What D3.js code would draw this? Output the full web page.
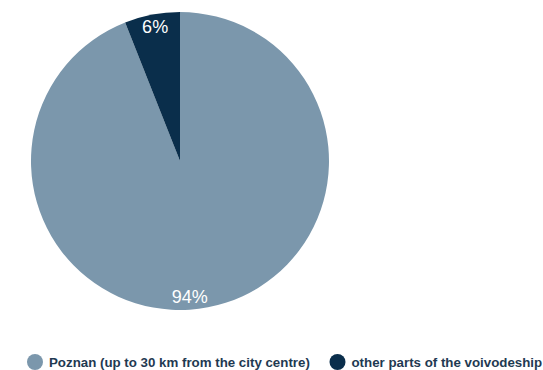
<!DOCTYPE html>
<html>
<head>
<meta charset="utf-8">
<script src="https://cdn.jsdelivr.net/npm/d3@7"></script>
<style>
  html, body { margin: 0; padding: 0; background: #ffffff; }
  svg { display: block; font-family: "Liberation Sans", Arial, sans-serif; }
</style>
</head>
<body>
<svg id="chart" width="543" height="370"></svg>
<script>
// Share of respondents by place of residence
const categories = ["Poznan (up to 30 km from the city centre)", "other parts of the voivodeship"];
const values = [94, 6];
const colors = ["#7b97ac", "#0a2e4b"];

const svg = d3.select("#chart");
const cx = 180, cy = 161, radius = 149;

const pie = d3.pie().sort(null).value(d => d.value);
const arcs = pie(categories.map((c, i) => ({ name: c, value: values[i], color: colors[i] })));

const arc = d3.arc().innerRadius(0).outerRadius(radius);

const g = svg.append("g").attr("transform", `translate(${cx},${cy})`);

g.selectAll("path.slice")
  .data(arcs)
  .join("path")
  .attr("class", "slice")
  .attr("d", arc)
  .attr("fill", d => d.data.color);

// Value labels sit just inside the rim; the large slice's label is pulled toward the bottom
const labelRadius = 136.5;
const labelShift = [6.7 * Math.PI / 180, 0.3 * Math.PI / 180];
g.selectAll("text.value")
  .data(arcs)
  .join("text")
  .attr("class", "value")
  .attr("text-anchor", "middle")
  .attr("dominant-baseline", "central")
  .attr("fill", "#ffffff")
  .attr("font-size", 18)
  .attr("transform", (d, i) => {
    const a = (d.startAngle + d.endAngle) / 2 + labelShift[i];
    return `translate(${Math.sin(a) * labelRadius},${-Math.cos(a) * labelRadius})`;
  })
  .text(d => d.data.value + "%");

// Legend
const legend = svg.append("g").attr("transform", "translate(0,362)");
const legendX = [35, 337.5];
const items = legend.selectAll("g.item")
  .data(arcs)
  .join("g")
  .attr("class", "item")
  .attr("transform", (d, i) => `translate(${legendX[i]},0)`);

items.append("circle")
  .attr("r", 8)
  .attr("fill", d => d.data.color);

items.append("text")
  .attr("x", 14)
  .attr("y", 4.8)
  .attr("font-size", 13.3)
  .attr("font-weight", "bold")
  .attr("fill", "#1f3a52")
  .text(d => d.data.name);
</script>
</body>
</html>
